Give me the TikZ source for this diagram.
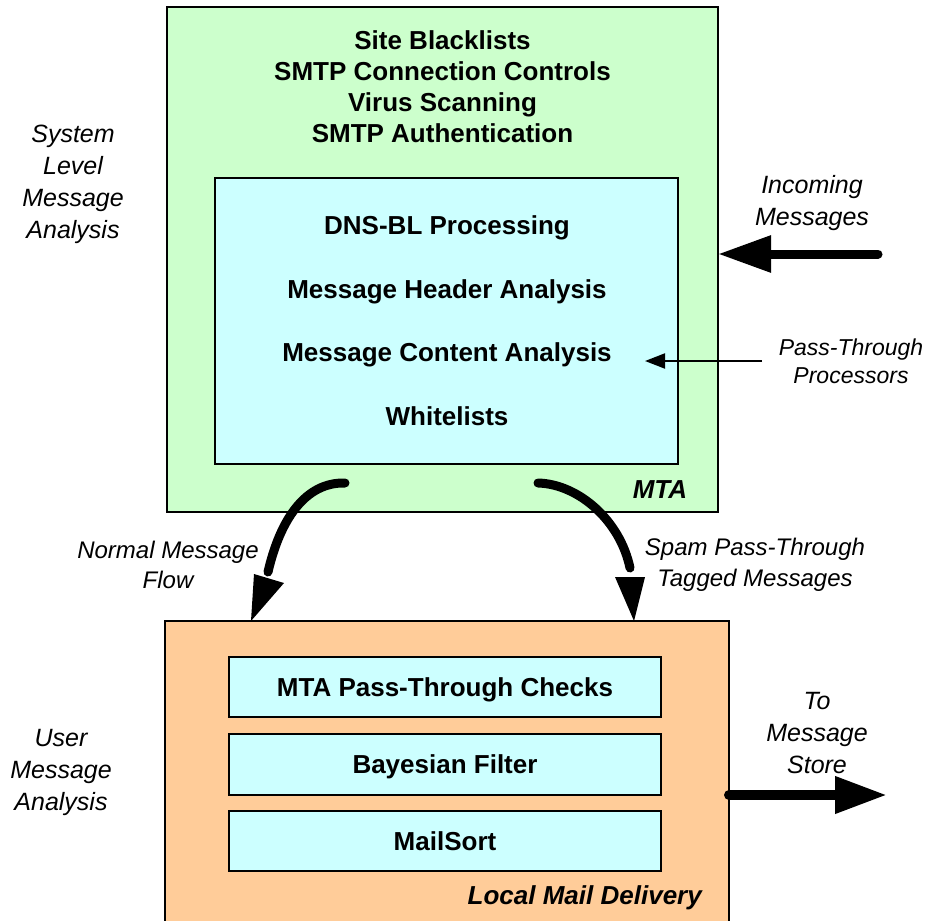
\documentclass[tikz,border=0pt]{standalone}
\usepackage{fontspec}
\setmainfont{Liberation Sans}
\usetikzlibrary{arrows.meta}
\definecolor{mtagreen}{HTML}{CCFFCC}
\definecolor{procyan}{HTML}{CCFFFF}
\definecolor{deliverypeach}{HTML}{FFCC99}

\begin{document}
\begin{tikzpicture}[x=1pt,y=-1pt,
  box/.style={draw=black, line width=2pt, anchor=north west, inner sep=0pt, outer sep=0pt},
  bigbold/.style={font=\fontsize{26}{31}\selectfont\bfseries, align=center, inner sep=0pt},
  sidelabel/.style={font=\fontsize{25}{32}\selectfont\itshape, align=center, inner sep=0pt},
  flowlabel/.style={font=\fontsize{24}{30.5}\selectfont\itshape, align=center, inner sep=0pt},
  smalllabel/.style={font=\fontsize{23}{28}\selectfont\itshape, align=center, inner sep=0pt},
  boxtitle/.style={font=\fontsize{26}{31}\selectfont\bfseries\itshape, inner sep=0pt},
  fatline/.style={line width=9pt, line cap=round},
]
\useasboundingbox (0,0) rectangle (928,920);
\clip (0,0) rectangle (928,920);

% MTA stage
\node[box, fill=mtagreen, minimum width=551pt, minimum height=505pt] (mta) at (167,7) {};
\node[box, fill=procyan, minimum width=463pt, minimum height=286pt] (pass) at (215,178) {};
\node[bigbold] (mtalist) at (442.5,86.5) {Site Blacklists\\SMTP Connection Controls\\Virus Scanning\\SMTP Authentication};
\node[bigbold] (dnsbl) at (447,228) {DNS-BL Processing};
\node[bigbold] (header) at (447,292) {Message Header Analysis};
\node[bigbold] (content) at (447,355) {Message Content Analysis};
\node[bigbold] (white) at (447,416) {Whitelists};
\node[boxtitle] (mtatitle) at (660,490) {MTA};

% Local delivery stage
\node[box, fill=deliverypeach, minimum width=564pt, minimum height=330pt] (local) at (165,621) {};
\node[box, fill=procyan, minimum width=432pt, minimum height=60pt] (checks) at (229,657) {};
\node[box, fill=procyan, minimum width=432pt, minimum height=61pt] (bayes) at (229,733.5) {};
\node[box, fill=procyan, minimum width=432pt, minimum height=60pt] (sort) at (229,811) {};
\node[bigbold] at ([yshift=-3pt]checks.center) {MTA Pass-Through Checks};
\node[bigbold] at ([yshift=-3pt]bayes.center) {Bayesian Filter};
\node[bigbold] at (sort.center) {MailSort};
\node[boxtitle, anchor=east] (localtitle) at (702,898) {Local Mail Delivery};

% side labels
\node[sidelabel] (syslabel) at (73,184.5) {System\\Level\\Message\\Analysis};
\node[sidelabel] (userlabel) at (61,772) {User\\Message\\Analysis};
\node[sidelabel] (inlabel) at (812,203) {Incoming\\Messages};
\node[sidelabel] (outlabel) at (817,733) {To\\Message\\Store};
\node[smalllabel] (ptlabel) at (851,361) {Pass-Through\\Processors};
\node[flowlabel] (normlabel) at (168,565) {Normal Message\\Flow};
\node[flowlabel] (spamlabel) at (755,565) {Spam Pass-Through\\Tagged Messages};

% incoming and outgoing arrows
\coordinate (inStart) at (878,254);
\draw[fatline, -{Triangle[length=53pt,width=35pt]}] (inStart) -- (mta.east |- inStart);
\coordinate (outEnd) at (887,795);
\draw[line width=10pt, line cap=round, -{Triangle[length=52pt,width=35pt]}] (local.east |- outEnd) -- (outEnd);

% pass-through pointer
\coordinate (ptStart) at (762,361);
\coordinate (ptEnd) at (645,361);
\draw[line width=2pt, -{Triangle[length=20pt,width=15pt]}] (ptStart) -- (ptEnd);

% normal message flow
\coordinate (normStart) at (345,483);
\coordinate (normEnd) at (268,572);
\draw[fatline] (normStart) .. controls (305,482) and (280,520) .. (normEnd);
\fill (254,574) -- (284,583) -- (local.north -| 251,0) -- cycle;

% spam pass-through flow
\coordinate (spamStart) at (538,483);
\coordinate (spamEnd) at (630,568);
\draw[fatline] (spamStart) .. controls (578,484) and (620,520) .. (spamEnd);
\fill (615,577) -- (645,577) -- (local.north -| 634,0) -- cycle;
\end{tikzpicture}
\end{document}
